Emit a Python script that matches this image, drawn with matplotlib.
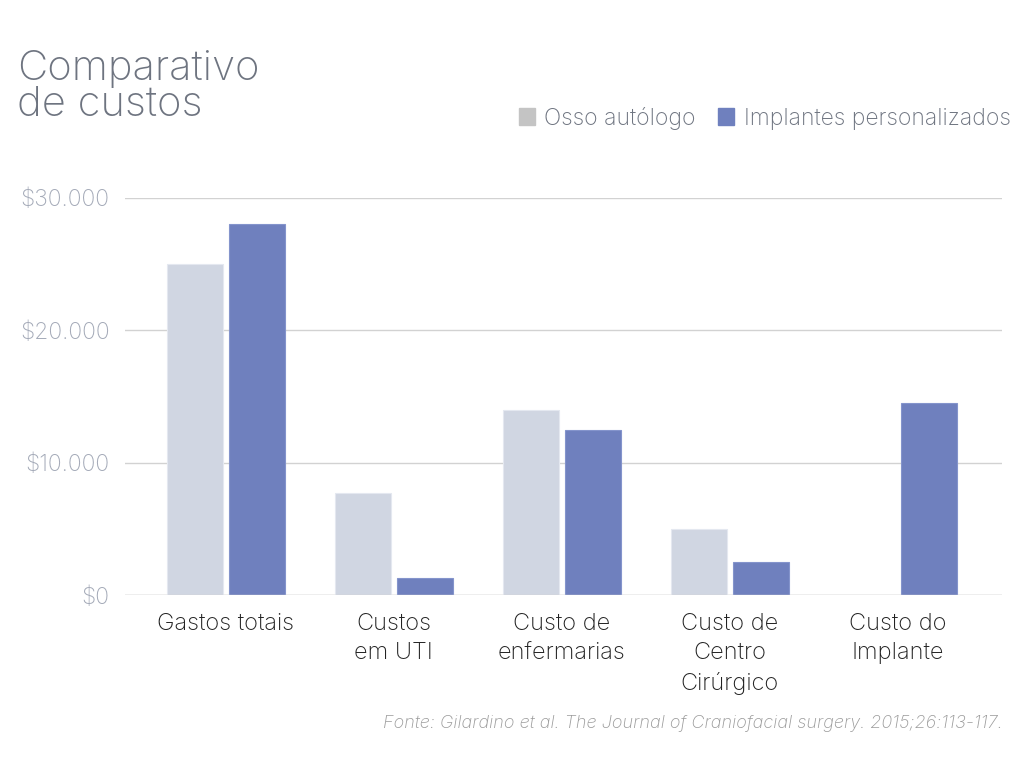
import matplotlib
matplotlib.use("Agg")
import matplotlib.pyplot as plt
import matplotlib.patches as mpatches
import numpy as np

# data
categorias = ["Gastos totais", "Custos\nem UTI", "Custo de\nenfermarias",
              "Custo de\nCentro\nCirúrgico", "Custo do\nImplante"]
osso = [25000, 7700, 14000, 5000, 0]
implantes = [28000, 1300, 12500, 2500, 14500]
yticks = [0, 10000, 20000, 30000]
ylabels = ["$0", "$10.000", "$20.000", "$30.000"]

cor_osso = "#D0D6E2"
cor_osso_leg = "#C4C4C4"
cor_impl = "#6F80BE"
cinza_txt = "#6E7480"

plt.rcParams['font.family'] = ['Inter', 'DejaVu Sans']

fig = plt.figure(figsize=(10.24, 7.59), dpi=100)
ax = fig.add_axes([125/1024, 1-595/759, (1002-125)/1024, (595-198)/759])

x = np.arange(len(categorias))
w = 0.333
gap = 0.018
ax.bar(x - w/2 - gap, osso, width=w, color=cor_osso, zorder=3, edgecolor="#E4E8F0", linewidth=0.8)
ax.bar(x + w/2 + gap, implantes, width=w, color=cor_impl, zorder=3, edgecolor="#8494CC", linewidth=0.8)

ax.set_xlim(-0.60, 4.62)
ax.set_ylim(0, 30000)
ax.set_yticks(yticks)
ax.set_yticklabels(ylabels, fontsize=16.5, color="#A4AAB8", fontweight="light")
ax.set_xticks(x)
ax.set_xticklabels(categorias, fontsize=17, color="#222222", linespacing=1.42, va="top",
                   fontweight="light")
ax.tick_params(axis="both", length=0)
ax.tick_params(axis="y", pad=11)
ax.tick_params(axis="x", pad=13)
ax.grid(axis="y", color="#D2D2D2", linewidth=1.0, zorder=0)
for s in ax.spines.values():
    s.set_visible(False)
ax.axhline(0, color="#D2D2D2", linewidth=1.0, zorder=4)

# title
fig.text(17/1024, 1-50/759, "Comparativo\nde custos", fontsize=30, color=cinza_txt,
         va="top", ha="left", linespacing=0.93, fontweight="light")

# legend
handles = [mpatches.Patch(color=cor_osso_leg), mpatches.Patch(color=cor_impl)]
fig.legend(handles, ["Osso autólogo", "Implantes personalizados"],
           loc="center right", bbox_to_anchor=(1031/1024, 1-118/759), ncol=2,
           frameon=False, handlelength=0.7, handleheight=0.7,
           handletextpad=0.4, columnspacing=1.0, labelcolor=cinza_txt,
           prop={'weight': 'light', 'size': 16.5})

# source
fig.text(1003/1024, 1-724/759,
         "Fonte: Gilardino et al. The Journal of Craniofacial surgery. 2015;26:113-117.",
         fontsize=13, color="#9A9A9A", style="italic", ha="right", va="center",
         fontweight="light")

fig.savefig("out.png", dpi=100)
